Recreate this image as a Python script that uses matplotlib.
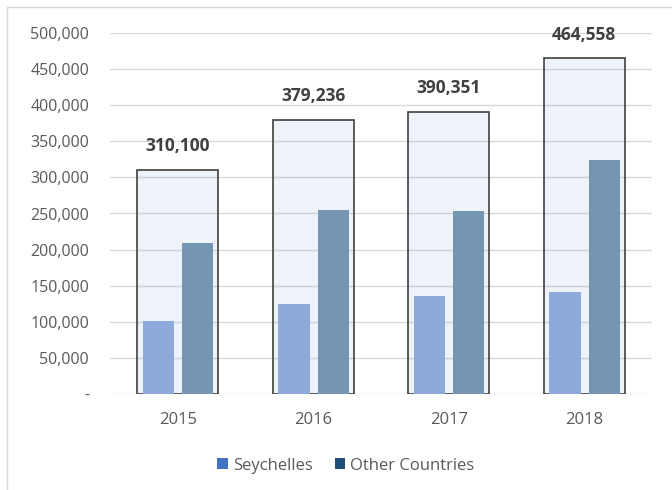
import matplotlib
matplotlib.use("Agg")
import matplotlib.pyplot as plt
from matplotlib.patches import Patch, Rectangle
from matplotlib.ticker import FuncFormatter
import numpy as np

plt.rcParams['font.family'] = ['Open Sans', 'DejaVu Sans']

years = ['2015', '2016', '2017', '2018']
totals = [310100, 379236, 390351, 464558]
seychelles = [100800, 124500, 136500, 141000]
other_countries = [209300, 254736, 253851, 323558]

fig = plt.figure(figsize=(6.72, 4.90), dpi=100)
ax = fig.add_axes([110 / 672, 1 - 394.3 / 490, 542 / 672, 361.6 / 490])

x = np.arange(len(years))

# totals drawn as outlined translucent boxes behind the two series
ax.bar(x, totals, width=0.60, facecolor=(68 / 255, 114 / 255, 196 / 255, 0.09),
       edgecolor='#404040', linewidth=1.2, zorder=2)
ax.bar(x - 0.142, seychelles, width=0.23, color='#8EAADB', zorder=3)
ax.bar(x + 0.148, other_countries, width=0.23, color='#7595B2', zorder=3)

for xi, t in zip(x, totals):
    ax.annotate(f'{t:,}', (xi, t), xytext=(0, 17), textcoords='offset points',
                ha='center', va='center', fontsize=12.5, fontweight='bold',
                color='#404040')

ax.set_xlim(-0.5, 3.5)
ax.set_ylim(0, 500000)
ax.set_yticks(np.arange(0, 500001, 50000))
ax.yaxis.set_major_formatter(FuncFormatter(lambda v, p: '-' if v == 0 else f'{int(v):,}'))
ax.set_xticks(x)
ax.set_xticklabels(years)
ax.tick_params(axis='both', length=0, labelcolor='#595959')
ax.tick_params(axis='y', pad=15, labelsize=11.5)
ax.tick_params(axis='x', pad=13, labelsize=12)
ax.yaxis.grid(True, color='#D9D9D9', linewidth=1.0)
ax.set_axisbelow(True)
for s in ax.spines.values():
    s.set_visible(False)

handles = [Patch(facecolor='#4472C4', label='Seychelles'),
           Patch(facecolor='#1F4E79', label='Other Countries')]
fig.legend(handles=handles, loc='center', bbox_to_anchor=(346 / 672, 1 - 465.7 / 490),
           ncol=2, frameon=False, fontsize=12, handlelength=0.65, handleheight=0.65,
           handletextpad=0.3, columnspacing=1.3, labelcolor='#595959')

# chart area border
fig.patches.append(Rectangle((6.5 / 672, -0.05), 1.2, 1 - 7 / 490 + 0.05,
                             transform=fig.transFigure, fill=False,
                             edgecolor='#D9D9D9', linewidth=1.0))

fig.savefig('out.png', dpi=100)
